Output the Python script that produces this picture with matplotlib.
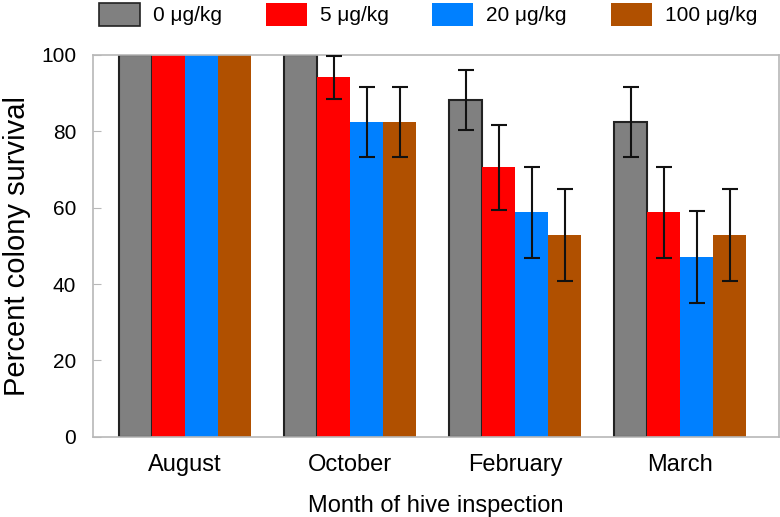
import matplotlib.pyplot as plt
import numpy as np
from matplotlib.patches import Patch

plt.rcParams['font.family'] = ['Liberation Sans', 'DejaVu Sans']

months = ["August", "October", "February", "March"]
doses = ["0 μg/kg", "5 μg/kg", "20 μg/kg", "100 μg/kg"]
colors = ["#808080", "#ff0000", "#0080ff", "#b05000"]

# survival (%) per dose, one value per month
surv_0 = [100, 100, 88.2, 82.4]
surv_5 = [100, 94.1, 70.6, 58.8]
surv_20 = [100, 82.4, 58.8, 47.1]
surv_100 = [100, 82.4, 52.9, 52.9]

# standard errors (none shown for a value of 100)
err_0 = [0, 0, 7.8, 9.2]
err_5 = [0, 5.7, 11.1, 11.9]
err_20 = [0, 9.2, 11.9, 12.1]
err_100 = [0, 9.2, 12.1, 12.1]

survival = [surv_0, surv_5, surv_20, surv_100]
errors = [err_0, err_5, err_20, err_100]

fig = plt.figure(figsize=(7.8, 5.17), dpi=100)
ax = fig.add_axes([0.119, 0.155, 0.880, 0.739])

x = np.arange(len(months))
w = 0.2
for k in range(4):
    pos = x + (k - 1.5) * w
    vals = np.array(survival[k])
    errs = np.array(errors[k])
    if k == 0:
        ax.bar(pos, vals, w, color=colors[k], edgecolor="#222222", linewidth=1.5, zorder=2)
    else:
        ax.bar(pos, vals, w, color=colors[k], linewidth=0, zorder=2)
    m = errs > 0
    ax.errorbar(pos[m], vals[m], yerr=errs[m], fmt="none", ecolor="#111111",
                elinewidth=1.5, capsize=6, capthick=1.5, zorder=3)

ax.set_xlim(-0.56, 3.6)
ax.set_ylim(0, 100)
ax.set_yticks([0, 20, 40, 60, 80, 100])
ax.set_xticks(x)
ax.set_xticklabels(months)
for s in ax.spines.values():
    s.set_color("#b8b8b8")
    s.set_linewidth(1.2)
ax.tick_params(axis="y", direction="in", length=6, color="#b8b8b8", labelsize=15, pad=12)
ax.tick_params(axis="x", length=0, labelsize=17, pad=12)
ax.set_ylabel("Percent colony survival", fontsize=21, labelpad=7)
ax.set_xlabel("Month of hive inspection", fontsize=17, labelpad=14)

handles = [Patch(facecolor=colors[0], edgecolor="#222222", linewidth=1.2)]
handles += [Patch(facecolor=c, edgecolor="none") for c in colors[1:]]
fig.legend(handles, doses, loc="center left", bbox_to_anchor=(0.127, 0.972), ncol=4,
           frameon=False, fontsize=15, handlelength=1.97, handleheight=1.3,
           handletextpad=0.62, columnspacing=2.1, borderpad=0, borderaxespad=0)

plt.savefig("out.png", dpi=100)
